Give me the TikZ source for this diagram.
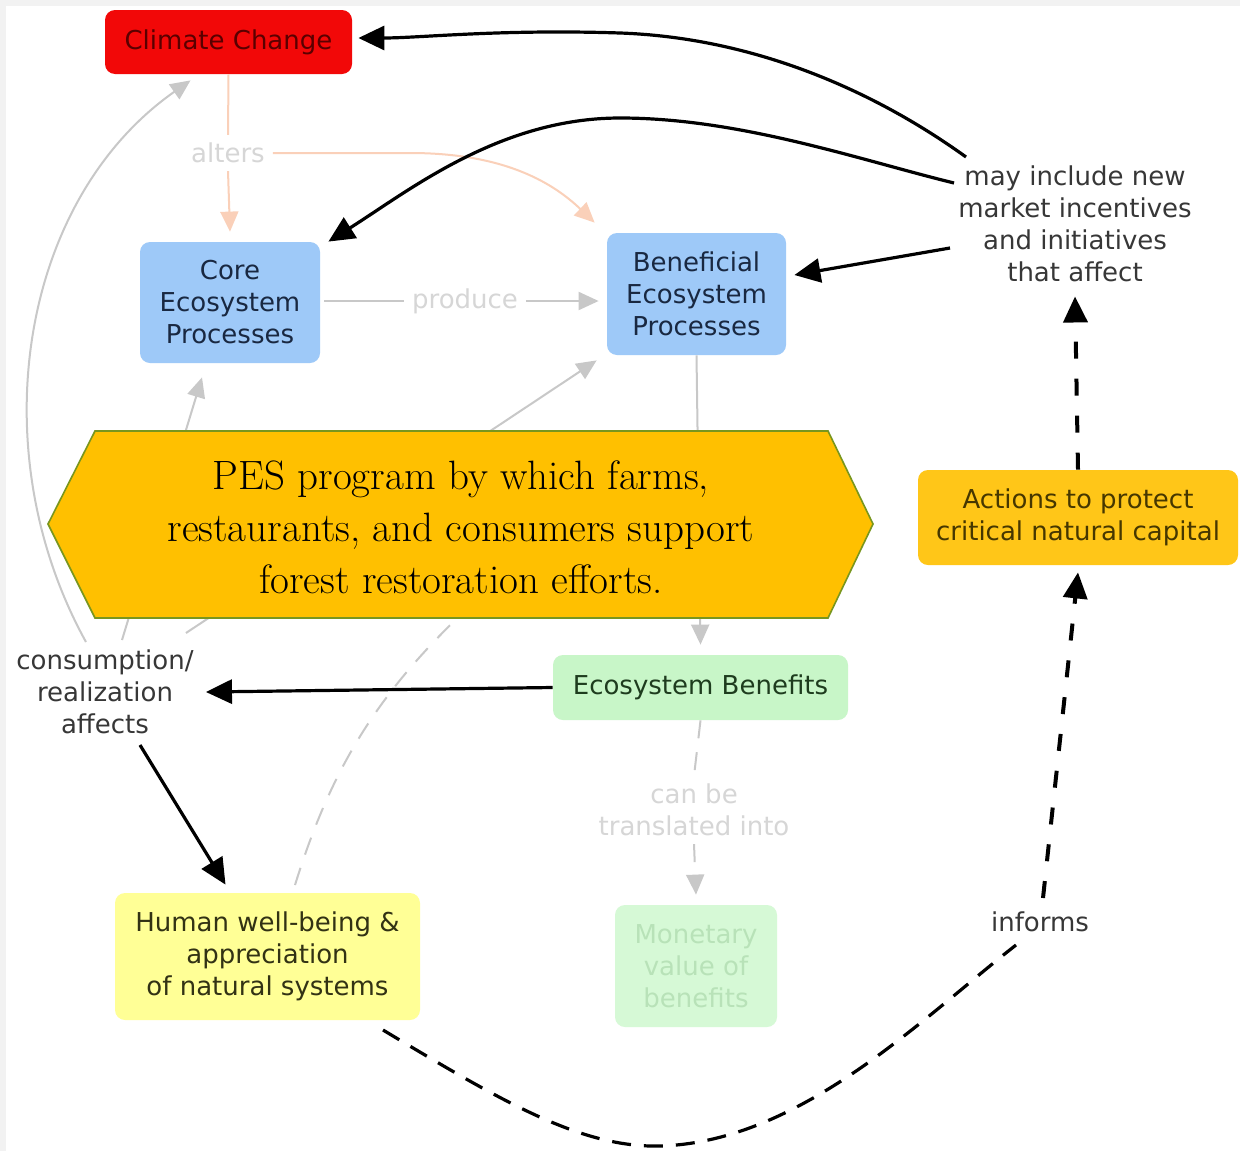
\documentclass[tikz,border=0pt]{standalone}
\usepackage{fontspec}
\newfontfamily\dv{DejaVu Sans}
\usetikzlibrary{arrows.meta}
\definecolor{ccred}{RGB}{242,8,8}
\definecolor{ccredtxt}{RGB}{90,0,0}
\definecolor{ccblue}{RGB}{158,201,248}
\definecolor{ccbluetxt}{RGB}{25,40,65}
\definecolor{ccgreen}{RGB}{200,246,200}
\definecolor{ccgreentxt}{RGB}{30,60,30}
\definecolor{ccmon}{RGB}{214,249,214}
\definecolor{ccmontxt}{RGB}{184,226,184}
\definecolor{ccyellow}{RGB}{255,255,150}
\definecolor{ccyellowtxt}{RGB}{50,50,20}
\definecolor{ccorange}{RGB}{255,198,24}
\definecolor{ccorangetxt}{RGB}{70,55,0}
\definecolor{cchex}{RGB}{255,192,0}
\definecolor{cchexline}{RGB}{120,150,30}
\definecolor{ccgray}{RGB}{200,200,200}
\definecolor{ccsalmon}{RGB}{250,208,185}
\definecolor{ccfaint}{RGB}{214,214,214}
\definecolor{cclabel}{RGB}{55,55,55}
\definecolor{ccframe}{RGB}{242,242,242}
\begin{document}
\begin{tikzpicture}[x=0.5pt,y=-0.5pt,
  box/.style={rounded corners=5pt,inner sep=0pt,align=center,
    font=\dv\fontsize{13}{16}\selectfont},
  lbl/.style={inner sep=0pt,align=center,text=cclabel,
    font=\dv\fontsize{13}{16}\selectfont},
  faintlbl/.style={lbl,text=ccfaint,outer sep=4pt},
  blkline/.style={line width=1.6pt,draw=black},
  blk/.style={blkline,-{Triangle[length=13pt,width=12pt]}},
  blkdash/.style={blk,line width=2pt,dash pattern=on 8.5pt off 10pt},
  blkcurve/.style={blkline,dash pattern=on 9.5pt off 6.5pt},
  gry/.style={line width=1pt,draw=ccgray,-{Triangle[length=10pt,width=9pt]}},
  gryplain/.style={line width=1pt,draw=ccgray},
  sal/.style={line width=1pt,draw=ccsalmon},
  salarr/.style={sal,-{Triangle[length=10pt,width=9pt]}},
]
\useasboundingbox (0,0) rectangle (1240,1151);
\fill[ccframe] (0,0) rectangle (1240,1151);
\fill[white] (6,6) rectangle (1240,1151);

% nodes
\node[box,fill=ccred,text=ccredtxt,minimum width=123.5pt,minimum height=32pt] (clim) at (228.5,42) {Climate Change};
\node[box,fill=ccblue,text=ccbluetxt,minimum width=90pt,minimum height=60.5pt] (core) at (230,302.5) {Core\\Ecosystem\\Processes};
\node[box,fill=ccblue,text=ccbluetxt,minimum width=89.5pt,minimum height=61pt] (ben) at (696.5,294) {Beneficial\\Ecosystem\\Processes};
\node[box,fill=ccgreen,text=ccgreentxt,minimum width=147.5pt,minimum height=32.5pt] (eb) at (700.5,687.5) {Ecosystem Benefits};
\node[box,fill=ccmon,text=ccmontxt,minimum width=81pt,minimum height=61pt] (mon) at (696,966) {Monetary\\value of\\benefits};
\node[box,fill=ccyellow,text=ccyellowtxt,minimum width=152.5pt,minimum height=63.5pt] (hum) at (267.5,956.5) {Human well-being \&\\appreciation\\of natural systems};
\node[box,fill=ccorange,text=ccorangetxt,minimum width=160pt,minimum height=47.5pt] (act) at (1078,517.5) {Actions to protect\\critical natural capital};

% labels
\node[faintlbl] (alters) at (228,153) {alters};
\node[faintlbl] (produce) at (465,301) {produce};
\node[faintlbl] (cbt) at (694,810) {can be\\translated into};
\node[lbl] (cons) at (105,692) {consumption/\\realization\\affects};
\node[lbl] (may) at (1075,224) {may include new\\market incentives\\and initiatives\\that affect};
\node[lbl] (inf) at (1040,922) {informs};

% free ends
\coordinate (mayA) at (966,157);
\coordinate (mayB) at (954,183);
\coordinate (mayC) at (950,248);
\coordinate (consA) at (86,642);
\coordinate (consB) at (122,640);
\coordinate (consC) at (186,633);
\coordinate (consD) at (140,745);
\coordinate (humA) at (383,1030);
\coordinate (humB) at (295,885);
\coordinate (hid) at (540,545);
\coordinate (infA) at (1016,945);
\coordinate (infB) at (1043,898);

% faint connectors
\draw[sal] (clim.south) -- (alters.north);
\draw[salarr] (alters.south) -- ([yshift=5pt]core.north);
\draw[salarr] (alters.east) -- (410,153) .. controls (500,153) and (550,180) .. ([xshift=-6pt,yshift=5pt]ben.north west);
\draw[gryplain] ([xshift=2pt]core.east |- produce.west) -- (produce.west);
\draw[gry,shorten >=4pt] (produce.east) -- (ben.west |- produce.east);
\draw[gry] (ben.south) -- ([yshift=5pt]eb.north);
\draw[gryplain,dash pattern=on 9pt off 7pt] (eb.south) -- (cbt.north);
\draw[gry,dash pattern=on 9pt off 7pt] (cbt.south) -- ([yshift=5pt]mon.north);
\draw[gry] (consA) .. controls (-20,450) and (20,200) .. ([xshift=-19pt,yshift=-3pt]clim.south);
\draw[gry] (consB) -- ([xshift=-14pt,yshift=-7pt]core.south);
\draw[gry] (consC) -- ([xshift=-5pt,yshift=-2.5pt]ben.south west);
\draw[gryplain,dash pattern=on 9pt off 7pt] (humB) .. controls (340,740) and (400,660) .. (hid);

% PES hexagon
\draw[fill=cchex,draw=cchexline,line width=0.8pt] (48,524) -- (95,431) -- (828,431) -- (873,524) -- (828,618) -- (95,618) -- cycle;
\node[align=center,inner sep=0pt,font=\fontsize{20.5}{26}\selectfont] (pes) at (461,527) {PES program by which farms,\\restaurants, and consumers support\\forest restoration efforts.};

% black connectors
\draw[blk,shorten >=1pt] (mayA) .. controls (880,95) and (760,38) .. (620,33) .. controls (500,29) and (420,38) .. ([xshift=2pt,yshift=2pt]clim.east);
\draw[blk] (mayB) .. controls (860,160) and (740,118) .. (620,118) .. controls (500,118) and (410,190) .. ([xshift=4pt]core.north east);
\draw[blk] (mayC) -- ([xshift=4pt,yshift=9.5pt]ben.east);
\draw[blk] (eb.west) -- ([xshift=6pt]cons.east);
\draw[blk] (consD) -- ([xshift=-21pt,yshift=4pt]hum.north);
\draw[blkcurve] (humA) .. controls (500,1100) and (580,1148) .. (660,1146) .. controls (800,1142) and (920,1020) .. (infA);
\draw[blkdash] (infB) -- ([yshift=-3.5pt]act.south);
\draw[blkdash] (act.north) -- ([yshift=-7pt]may.south);
\end{tikzpicture}
\end{document}
